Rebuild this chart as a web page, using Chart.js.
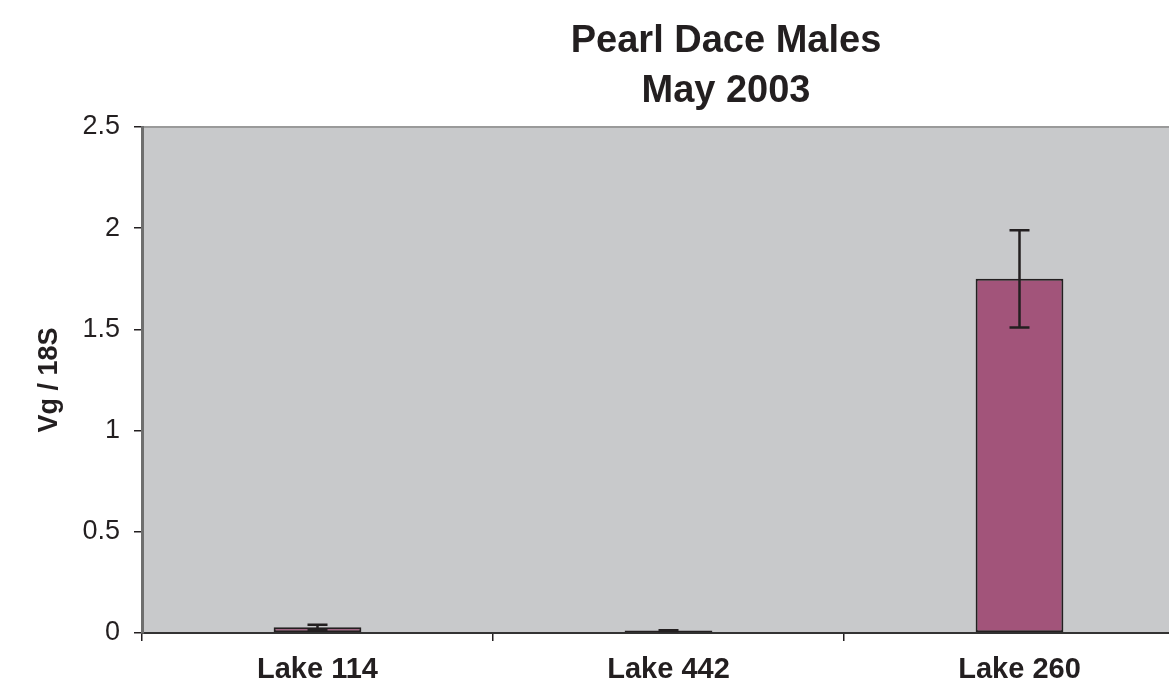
<!DOCTYPE html>
<html>
<head>
<meta charset="utf-8">
<script src="https://cdn.jsdelivr.net/npm/chart.js@4/dist/chart.umd.min.js"></script>
<style>
  html, body { margin: 0; padding: 0; background: #ffffff; overflow: hidden; width: 1169px; height: 685px; }
  #wrap { width: 1200px; height: 685px; }
</style>
</head>
<body>
<div id="wrap"><canvas id="c" width="1200" height="685"></canvas></div>
<script>
const titleLines = ["Pearl Dace Males", "May 2003"];
const categories = ["Lake 114", "Lake 442", "Lake 260"];
const values = [0.028, 0.012, 1.75];
const errors = [0.013, 0.002, 0.24];
const yTickValues = [0, 0.5, 1, 1.5, 2, 2.5];
const yAxisTitle = "Vg / 18S";

const ink = '#231F20';
const fam = "'Liberation Sans', Arial, sans-serif";

const plotBg = {
  id: 'plotBg',
  beforeDraw(chart) {
    const { ctx, chartArea: a } = chart;
    ctx.save();
    ctx.fillStyle = '#C8C9CB';
    ctx.fillRect(a.left, a.top, a.right - a.left, a.bottom - a.top);
    ctx.strokeStyle = '#9A9A9A';
    ctx.lineWidth = 2;
    ctx.beginPath();
    ctx.moveTo(a.left, a.top);
    ctx.lineTo(a.right, a.top);
    ctx.lineTo(a.right, a.bottom);
    ctx.stroke();
    ctx.restore();
  }
};

// Two-line title centred a bit right of the plot's middle, as in the reference
const titleText = {
  id: 'titleText',
  afterDraw(chart) {
    const { ctx } = chart;
    ctx.save();
    ctx.fillStyle = ink;
    ctx.font = "bold 38px " + fam;
    ctx.textAlign = 'center';
    ctx.textBaseline = 'alphabetic';
    const cx = 726;
    titleLines.forEach((t, i) => ctx.fillText(t, cx, 52 + i * 50));
    ctx.restore();
  }
};

const errorBars = {
  id: 'errorBars',
  afterDatasetsDraw(chart) {
    const { ctx, scales: { y } } = chart;
    const meta = chart.getDatasetMeta(0);
    ctx.save();
    ctx.strokeStyle = ink;
    ctx.lineWidth = 2.5;
    meta.data.forEach((bar, i) => {
      const x = bar.x;
      const yTop = y.getPixelForValue(values[i] + errors[i]);
      const yBot = y.getPixelForValue(values[i] - errors[i]);
      const half = 10;
      ctx.beginPath();
      ctx.moveTo(x, yTop); ctx.lineTo(x, yBot);
      ctx.moveTo(x - half, yTop); ctx.lineTo(x + half, yTop);
      ctx.moveTo(x - half, yBot); ctx.lineTo(x + half, yBot);
      ctx.stroke();
    });
    ctx.restore();
  }
};

new Chart(document.getElementById('c'), {
  type: 'bar',
  data: {
    labels: categories,
    datasets: [{
      data: values,
      backgroundColor: '#A2547A',
      borderColor: ink,
      borderWidth: 2,
      borderSkipped: false,
      barPercentage: 0.25,
      categoryPercentage: 1.0
    }]
  },
  options: {
    responsive: false,
    animation: false,
    devicePixelRatio: 1,
    layout: { padding: { left: 0, right: 5, top: 127, bottom: 0 } },
    plugins: {
      legend: { display: false },
      tooltip: { enabled: false },
      title: { display: false }
    },
    scales: {
      x: {
        grid: { display: true, drawOnChartArea: false, drawTicks: true, tickLength: 8, color: ink, lineWidth: 1.5, offset: true },
        border: { display: true, color: '#333333', width: 2 },
        ticks: {
          color: ink,
          padding: 12,
          font: { family: fam, size: 29, weight: 'bold' }
        },
        afterFit(scale) { scale.height = 52; }
      },
      y: {
        min: 0,
        max: 2.5,
        afterBuildTicks(scale) { scale.ticks = yTickValues.map(v => ({ value: v })); },
        grid: { display: true, drawOnChartArea: false, drawTicks: true, tickLength: 8, color: ink, lineWidth: 1.5 },
        border: { display: true, color: '#6E6E6E', width: 3 },
        ticks: {
          color: ink,
          padding: 14,
          font: { family: fam, size: 27 },
          callback: (v) => String(v)
        },
        title: {
          display: true,
          text: yAxisTitle,
          color: ink,
          font: { family: fam, size: 27, weight: 'bold' },
          padding: { top: 33, bottom: 0 }
        },
        afterFit(scale) { scale.width = 142; }
      }
    }
  },
  plugins: [plotBg, errorBars, titleText]
});
</script>
</body>
</html>
